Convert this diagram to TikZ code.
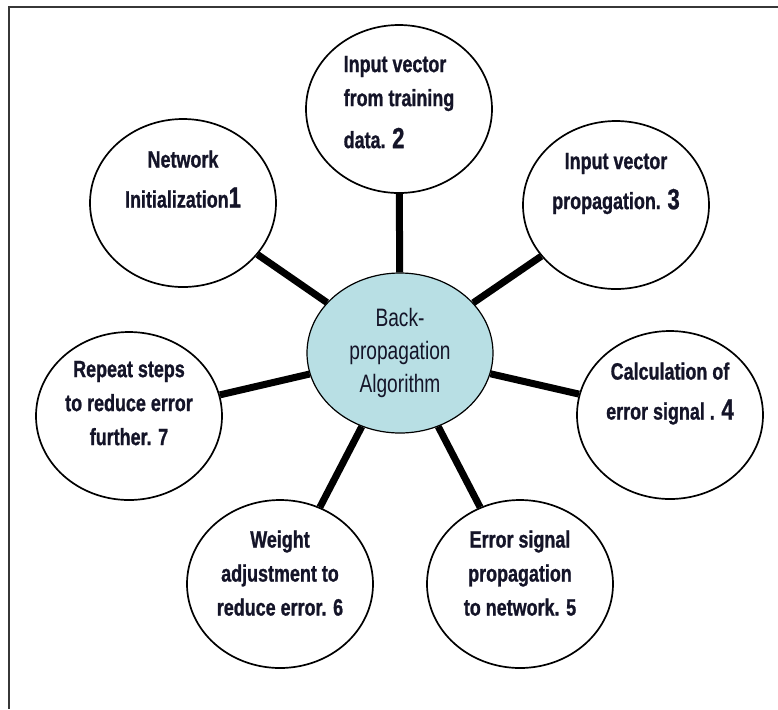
\documentclass[tikz,border=0pt]{standalone}
\usepackage{fontspec}
\setmainfont{Liberation Sans}[FakeStretch=0.76,BoldFeatures={FakeBold=1}]
\usetikzlibrary{shapes.geometric}

\definecolor{hubblue}{RGB}{184,223,228}
\definecolor{framegray}{RGB}{55,55,55}
\definecolor{inkblue}{RGB}{20,20,40}
\newcommand{\stepnum}[1]{{\fontsize{14.5}{14.5}\selectfont #1}}

\begin{document}
\begin{tikzpicture}[x=0.5pt,y=-0.5pt,
        stage/.style={ellipse,draw,line width=0.85pt,inner sep=0pt,text=inkblue,
            minimum width=93pt,minimum height=84pt,align=center,text depth=11pt,
            font=\fontsize{11.8}{17}\selectfont\bfseries},
        twoline/.style={text depth=24pt},
        hub/.style={ellipse,draw,line width=0.6pt,fill=hubblue,inner sep=0pt,text=inkblue,
            minimum width=93pt,minimum height=80pt,align=center,
            font=\fontsize{12.6}{16.5}\selectfont},
        spoke/.style={line width=3.5pt}]
        \useasboundingbox (0,0) rectangle (778,709);
        % page frame
        \draw[framegray,line width=1.1pt] (778,7) -- (9,7) -- (9,709);
        % centre
        \node[hub] (bp) at (400,353) {Back-\\propagation\\Algorithm};
        % the seven steps
        \node[stage,twoline] (init) at (183,203) {Network\\[3pt]Initialization\stepnum{1}};
        \node[stage,align=left,text depth=7pt] (input) at (399,109) {Input vector\\from training\\[4pt]data. \stepnum{2}};
        \node[stage,twoline] (prop) at (616,205) {Input vector\\[3pt]propagation. \stepnum{3}};
        \node[stage,twoline] (calc) at (670,415) {Calculation of\\[3pt]error signal . \stepnum{4}};
        \node[stage] (errprop) at (520,584) {Error signal\\propagation\\to network. 5};
        \node[stage] (weight) at (280,584) {Weight\\adjustment to\\reduce error. 6};
        \node[stage,text depth=13pt] (repeat) at (129,416) {Repeat steps\\to reduce error\\further. 7};
        % spokes
        \foreach \s in {init,input,prop,calc,errprop,weight,repeat}
            \draw[spoke] (bp) -- (\s);
\end{tikzpicture}
\end{document}
